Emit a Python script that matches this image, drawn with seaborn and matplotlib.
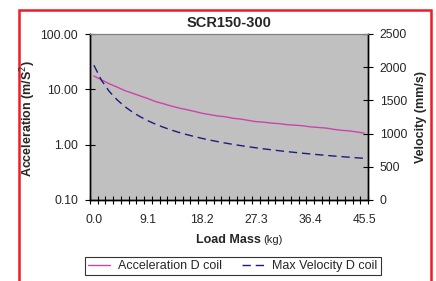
import numpy as np
import pandas as pd
import matplotlib
matplotlib.use("Agg")
import matplotlib.pyplot as plt
import seaborn as sns
from matplotlib.patches import Rectangle
from matplotlib.ticker import FixedLocator, NullLocator

# ─── DATA ─────────────────────────────────────────────────────────────────
load_mass = [0.0, 1.3, 2.6, 3.9, 5.2, 6.5, 7.8, 9.1, 10.4, 11.7, 13.0, 14.3,
             15.6, 16.9, 18.2, 19.5, 20.8, 22.1, 23.4, 24.7, 26.0, 27.3,
             28.6, 29.9, 31.2, 32.5, 33.8, 35.1, 36.4, 37.7, 39.0, 40.3,
             41.6, 42.9, 44.2, 45.5]
acceleration = [17.4, 14.8, 12.6, 11.0, 9.5, 8.5, 7.6, 6.8, 6.0, 5.5, 5.0, 4.6,
                4.3, 4.0, 3.7, 3.5, 3.3, 3.2, 3.0, 2.9, 2.75, 2.6,
                2.55, 2.45, 2.4, 2.3, 2.25, 2.2, 2.1, 2.05, 2.0, 1.9,
                1.82, 1.78, 1.70, 1.62]
max_velocity = [2030, 1800, 1635, 1510, 1407, 1324, 1254, 1194, 1141, 1096, 1055, 1018,
                986, 956, 928, 903, 880, 858, 838, 820, 802, 786,
                770, 756, 742, 729, 717, 705, 694, 683, 673, 663,
                654, 645, 636, 628]
x_labels = [0.0, 9.1, 18.2, 27.3, 36.4, 45.5]
acc_ticks = [0.1, 1, 10, 100]
vel_ticks = [0, 500, 1000, 1500, 2000, 2500]

df = pd.DataFrame({'mass': load_mass, 'acc': acceleration, 'vel': max_velocity})

# ─── STYLE ────────────────────────────────────────────────────────────────
sns.set_style("white")
plt.rcParams['font.family'] = ['Liberation Sans', 'DejaVu Sans']
PINK = '#cc44aa'
NAVY = '#1c1c80'
TICK_FS = 8.7

fig = plt.figure(figsize=(4.36, 2.81), dpi=100)
W, H = 436, 281

# red outer frame (bottom edge runs off the image)
fig.patches.append(Rectangle((19 / W, -0.1), (431 - 19) / W, 1.1 - 10 / H,
                             transform=fig.transFigure, fill=False,
                             edgecolor='#ee1c25', linewidth=1.8))

ax = fig.add_axes([90 / W, 1 - 200 / H, 278 / W, 166 / H])
ax.set_facecolor('#c0c0c0')
ax2 = ax.twinx()

sns.lineplot(data=df, x='mass', y='acc', ax=ax, color=PINK, linewidth=1.0,
             label='Acceleration D coil', legend=False)
sns.lineplot(data=df, x='mass', y='vel', ax=ax2, color=NAVY, linewidth=1.0,
             dashes=False, label='Max Velocity D coil', legend=False)
ax2.lines[0].set_dashes((6, 3.5))

# x axis: category-style boundaries
step = 1.3
ax.set_xlim(-step / 2, 45.5 + step / 2)
ax.xaxis.set_major_locator(FixedLocator(x_labels))
ax.set_xticklabels([f'{v:.1f}' for v in x_labels])
ax.xaxis.set_minor_locator(FixedLocator([-step / 2 + step * k for k in range(37)]))
ax.tick_params(axis='x', which='major', length=0, pad=10, labelsize=TICK_FS)
ax.tick_params(axis='x', which='minor', direction='inout', length=6, width=0.8,
               color='black', bottom=True)

# left log axis
ax.set_yscale('log')
ax.set_ylim(0.1, 100)
ax.yaxis.set_major_locator(FixedLocator(acc_ticks))
ax.yaxis.set_minor_locator(NullLocator())
ax.set_yticklabels(['0.10', '1.00', '10.00', '100.00'])
ax.tick_params(axis='y', which='major', direction='inout', length=7, width=0.8,
               color='black', left=True, labelsize=TICK_FS, pad=5)

# right linear axis
ax2.set_ylim(0, 2500)
ax2.yaxis.set_major_locator(FixedLocator(vel_ticks))
ax2.tick_params(axis='y', direction='inout', length=7, width=0.8, color='black',
                right=True, labelsize=TICK_FS, pad=5)

for a in (ax, ax2):
    a.set_xlabel('')
    a.set_ylabel('')
    for side in ('left', 'right', 'bottom'):
        a.spines[side].set_color('black')
        a.spines[side].set_linewidth(1.0)
    a.spines['top'].set_color('#808080')
    a.spines['top'].set_linewidth(0.8)

ax.set_title('SCR150-300', fontsize=10.5, fontweight='bold', pad=5)

fig.text(28 / W, 1 - 118 / H, 'Acceleration (m/S$^2$)', rotation=90,
         ha='center', va='center', fontsize=9, fontweight='bold')
fig.text(421 / W, 1 - 117 / H, 'Velocity (mm/s)', rotation=90,
         ha='center', va='center', fontsize=9, fontweight='bold')
fig.text(261 / W, 1 - 240 / H, 'Load Mass', ha='right', va='center',
         fontsize=9, fontweight='bold')
fig.text(263 / W, 1 - 240 / H, '(kg)', ha='left', va='center', fontsize=8)

handles = ax.get_lines()[:1] + ax2.get_lines()[:1]
leg = fig.legend(handles, [h.get_label() for h in handles], ncol=2,
                 loc='center', bbox_to_anchor=(233 / W, 1 - 266 / H),
                 fontsize=9, frameon=True, fancybox=False, edgecolor='black',
                 handlelength=1.7, columnspacing=1.6, borderpad=0.25,
                 handletextpad=0.7, borderaxespad=0)
leg.get_frame().set_linewidth(0.8)

fig.savefig('out.png', dpi=100)
